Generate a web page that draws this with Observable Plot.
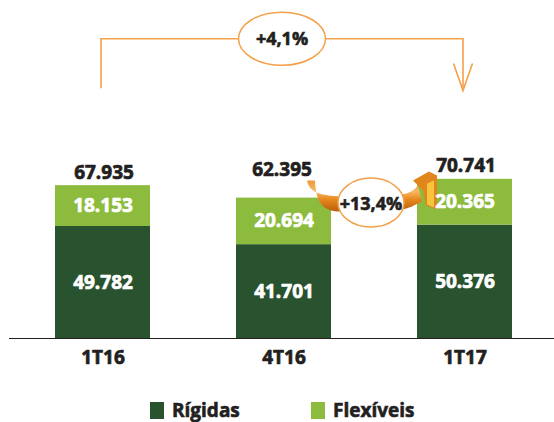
<!DOCTYPE html>
<html><head><meta charset="utf-8">
<script src="https://cdn.jsdelivr.net/npm/d3@7"></script>
<script src="https://cdn.jsdelivr.net/npm/@observablehq/plot@0.6"></script>
<style>
body{margin:0;background:#fff;}
#chart{width:554px;height:422px;position:relative;overflow:hidden;font-family:"Open Sans",sans-serif;}
#chart svg{display:block;}
g[aria-label="valores"] text, g[aria-label="totais"] text{letter-spacing:1px;}
#legend{position:relative;width:554px;height:27px;}
#legend .sw{position:absolute;top:7px;width:14px;height:17px;}
#legend .lb{position:absolute;top:6px;line-height:18px;font-size:19px;font-weight:bold;color:#231f20;white-space:nowrap;-webkit-text-stroke:0.6px #231f20;}
</style></head>
<body><div id="chart"></div>
<script>
// ---- data ----
const periods = ["1T16", "4T16", "1T17"];
const series = ["Rígidas", "Flexíveis"];
const rigidas = [49782, 41701, 50376];
const flexiveis = [18153, 20694, 20365];
const totals = [67935, 62395, 70741];
const growthLabels = ["+4,1%", "+13,4%"];
const colors = ["#29522e", "#8cbb3e"];

// ---- build tables ----
const rows = periods.flatMap((p, i) => [
  {period: p, type: series[0], value: rigidas[i]},
  {period: p, type: series[1], value: flexiveis[i]}
]);
const totalRows = periods.map((p, i) => ({period: p, total: totals[i]}));
const br = d3.formatLocale({decimal: ",", thousands: ".", grouping: [3], currency: ["", ""]});
const fmt = br.format(",d");
const ink = "#231f20";
const orange = "#f4a04a";

function growthAnnotations(index, scales) {
  const x = scales.x, y = scales.y;
  const bw = x.bandwidth ? x.bandwidth() : 0;
  const cx = p => x(p) + bw / 2;
  const g = d3.create("svg:g").attr("aria-label", "crescimento");
  const defs = g.append("defs");
  const grad = defs.append("linearGradient").attr("id", "ribbonGrad")
    .attr("x1", 0).attr("y1", 0).attr("x2", 0).attr("y2", 1);
  grad.append("stop").attr("offset", "0%").attr("stop-color", "#ee9a35");
  grad.append("stop").attr("offset", "35%").attr("stop-color", "#f6b866");
  grad.append("stop").attr("offset", "60%").attr("stop-color", "#e8891e");
  grad.append("stop").attr("offset", "100%").attr("stop-color", "#b95e0a");

  // +4,1% bracket (1T16 -> 1T17)
  const xl = cx(periods[0]) - 1.5, xr = cx(periods[2]) - 1.5;
  const yTop = y(133000), yLeft = y(111000), yTip = y(110000);
  g.append("path")
    .attr("d", `M${xl},${yLeft}V${yTop}H${xr}V${yTip}`)
    .attr("fill", "none").attr("stroke", orange).attr("stroke-width", 1.6);
  g.append("path")
    .attr("d", `M${xr - 9.5},${yTip - 27}L${xr},${yTip}L${xr + 9.5},${yTip - 27}`)
    .attr("fill", "none").attr("stroke", orange).attr("stroke-width", 1.6);
  const e1x = (xl + xr) / 2;
  g.append("ellipse").attr("cx", e1x).attr("cy", yTop).attr("rx", 43.5).attr("ry", 26.5)
    .attr("fill", "white").attr("stroke", orange).attr("stroke-width", 1.5);
  g.append("text").attr("x", e1x).attr("y", yTop).attr("dy", "0.35em")
    .attr("text-anchor", "middle").attr("font-size", 18).attr("font-weight", "bold")
    .attr("fill", ink).attr("stroke", ink).attr("stroke-width", 0.6).text(growthLabels[0]);

  // +13,4% curved arrow (4T16 -> 1T17)
  const ex = (cx(periods[1]) + cx(periods[2])) / 2 - 3;
  const ey = y(totals[1]) + 5;
  const P = (dx, dy) => `${ex + dx},${ey + dy}`;
  g.append("path")
    .attr("d",
      `M${P(-64,-22)}C${P(-62,-10)} ${P(-50,-7)} ${P(-30,-6)}L${P(30,-8)}C${P(38,-9)} ${P(43,-12)} ${P(47,-17)}` +
      `L${P(51,-1)}C${P(43,3)} ${P(38,6)} ${P(30,7)}L${P(-30,9)}C${P(-46,9)} ${P(-55,3)} ${P(-56,-22)}Z`)
    .attr("fill", "url(#ribbonGrad)");
  // arrow head (block style)
  g.append("path")
    .attr("d", `M${P(42,-22)}L${P(58,-31)}L${P(66,-27)}L${P(66,7)}L${P(55,3)}L${P(52,-12)}Z`)
    .attr("fill", "#e0861c");
  g.append("path")
    .attr("d", `M${P(56,-19)}L${P(63,-22)}L${P(63,5)}L${P(56,2)}Z`)
    .attr("fill", "#f7c43c");
  g.append("ellipse").attr("cx", ex).attr("cy", ey).attr("rx", 33).attr("ry", 24.5)
    .attr("fill", "white").attr("stroke", orange).attr("stroke-width", 1.5);
  g.append("text").attr("x", ex).attr("y", ey + 1).attr("dy", "0.35em")
    .attr("text-anchor", "middle").attr("font-size", 18).attr("font-weight", "bold")
    .attr("fill", ink).attr("stroke", ink).attr("stroke-width", 0.6).text(growthLabels[1]);
  return g.node();
}

const bold = {fontSize: 19, fontWeight: "bold", strokeWidth: 0.7};

const plot = Plot.plot({
  width: 554,
  height: 395,
  marginTop: 0,
  marginLeft: 9,
  marginRight: 0,
  marginBottom: 57,
  style: {fontFamily: "'Open Sans', sans-serif", background: "white"},
  x: {domain: periods, range: [-31, 598], paddingInner: 0.475, paddingOuter: 0.475, axis: null},
  y: {domain: [0, 150000], range: [338, 0.5], axis: null},
  color: {domain: series, range: colors},
  marks: [
    Plot.barY(rows, {x: "period", y: "value", fill: "type"}),
    Plot.ruleY([0], {stroke: ink, strokeWidth: 1}),
    growthAnnotations,
    Plot.text(rows, Plot.stackY({
      x: "period", y: "value", text: d => fmt(d.value),
      fill: "white", stroke: "white", ...bold, ariaLabel: "valores"
    })),
    Plot.text(totalRows.filter(d => d.period !== periods[1]), {
      x: "period", y: "total", text: d => fmt(d.total), dy: -13, dx: 1,
      fill: ink, stroke: ink, ...bold, ariaLabel: "totais"
    }),
    Plot.text(totalRows.filter(d => d.period === periods[1]), {
      x: "period", y: "total", text: d => fmt(d.total), dy: -28, dx: -2,
      fill: ink, stroke: ink, ...bold, ariaLabel: "totais"
    }),
    Plot.text(periods, {
      x: d => d, y: () => 0, text: d => d, dy: 19.5,
      fill: ink, stroke: ink, ...bold
    })
  ]
});

const chart = document.getElementById("chart");
chart.appendChild(plot);

const legend = document.createElement("div");
legend.id = "legend";
const legendPos = [[150, 172], [311, 333]];
series.forEach((s, i) => {
  const sw = document.createElement("div");
  sw.className = "sw";
  sw.style.left = legendPos[i][0] + "px";
  sw.style.background = colors[i];
  const lb = document.createElement("div");
  lb.className = "lb";
  lb.style.left = legendPos[i][1] + "px";
  lb.textContent = s;
  legend.appendChild(sw);
  legend.appendChild(lb);
});
chart.appendChild(legend);
</script>
</body></html>
